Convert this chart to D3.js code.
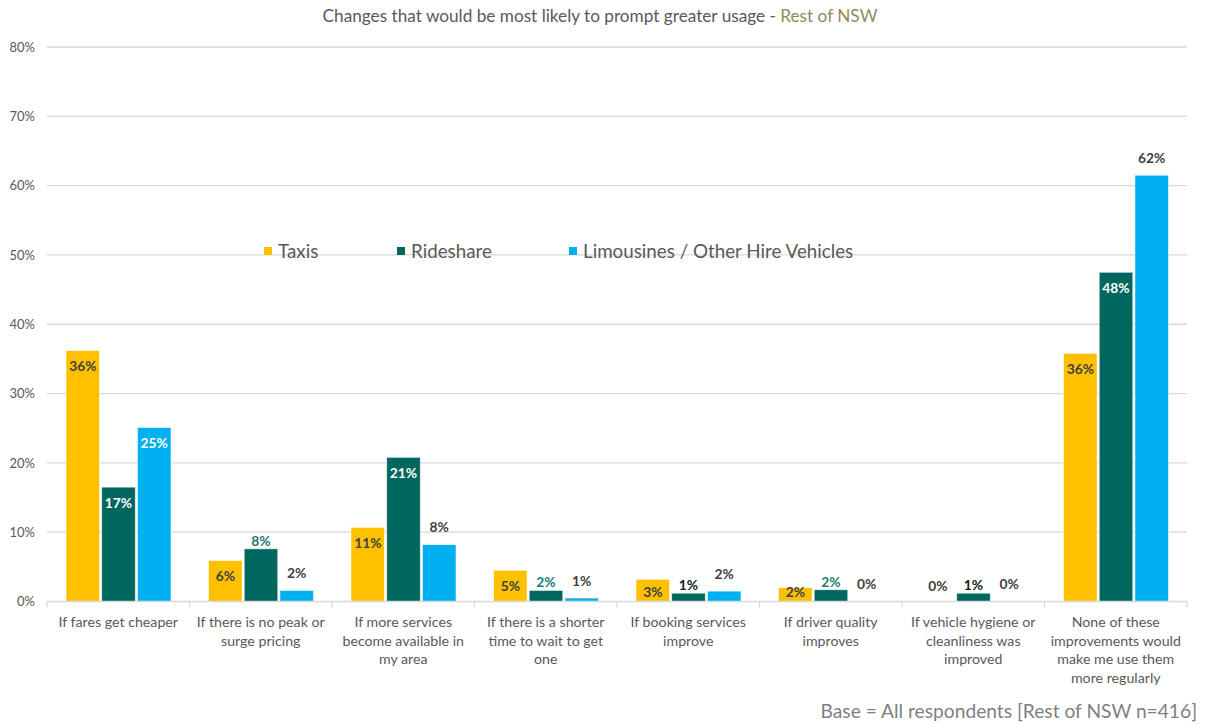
<!DOCTYPE html>
<html>
<head>
<meta charset="utf-8">
<script src="https://cdn.jsdelivr.net/npm/d3@7"></script>
<style>
  html, body { margin: 0; padding: 0; background: #fff; }
  svg { display: block; font-family: Lato, "Open Sans", sans-serif; }
</style>
</head>
<body>
<svg id="chart" width="1207" height="725"></svg>
<script>
// Survey categories (x axis), each label broken into display lines
const categories = [
  ["If fares get cheaper"],
  ["If there is no peak or", "surge pricing"],
  ["If more services", "become available in", "my area"],
  ["If there is a shorter", "time to wait to get", "one"],
  ["If booking services", "improve"],
  ["If driver quality", "improves"],
  ["If vehicle hygiene or", "cleanliness was", "improved"],
  ["None of these", "improvements would", "make me use them", "more regularly"]
];

const seriesNames = ["Taxis", "Rideshare", "Limousines / Other Hire Vehicles"];

// Percent of respondents per category
const taxis     = [36.2, 5.9, 10.7, 4.5, 3.2, 2.0, 0, 35.8];
const rideshare = [16.5, 7.6, 20.8, 1.6, 1.2, 1.7, 1.2, 47.5];
const limos     = [25.1, 1.6, 8.2, 0.5, 1.5, 0, 0, 61.5];

const yTicks = [0, 10, 20, 30, 40, 50, 60, 70, 80];

const colors = ["#FFC000", "#00675F", "#00B0F0"];
const seriesValues = [taxis, rideshare, limos];

const svg = d3.select("#chart");
const plotLeft = 47, plotRight = 1187, plotTop = 47, plotBottom = 601.5;

const x0 = d3.scaleBand().domain(d3.range(categories.length)).range([plotLeft, plotRight]).padding(0);
const x1 = d3.scaleBand().domain(d3.range(seriesNames.length)).range([19, 124]).paddingInner(0.06);
const y = d3.scaleLinear().domain([0, 80]).range([plotBottom, plotTop]);

// Gridlines
svg.append("g")
  .selectAll("line")
  .data(yTicks.filter(t => t > 0))
  .join("line")
  .attr("x1", plotLeft).attr("x2", plotRight)
  .attr("y1", d => y(d)).attr("y2", d => y(d))
  .attr("stroke", "#d9d9d9").attr("stroke-width", 1.3);

// Y axis labels
const yAxis = d3.axisLeft(y).tickValues(yTicks).tickFormat(d => d + "%").tickSize(0).tickPadding(12);
const yg = svg.append("g").attr("transform", `translate(${plotLeft},0)`).call(yAxis);
yg.select(".domain").remove();
yg.selectAll("text").attr("fill", "#595959").style("font-size", "13px").style("font-family", "Lato, sans-serif");

// Bars
const groups = svg.append("g")
  .selectAll("g")
  .data(categories.map((c, i) => i))
  .join("g")
  .attr("transform", i => `translate(${x0(i)},0)`);

groups.selectAll("rect")
  .data(i => seriesValues.map((vals, s) => ({ s, v: vals[i] })))
  .join("rect")
  .attr("x", d => x1(d.s))
  .attr("width", x1.bandwidth())
  .attr("y", d => y(d.v))
  .attr("height", d => plotBottom - y(d.v))
  .attr("fill", d => colors[d.s])
  .attr("stroke", d => d.v > 0 ? "#ffffff" : "none")
  .attr("stroke-width", 0.8)
  .attr("stroke-opacity", 0.7);

// Value labels
function labelPlacement(d) {
  const yt = y(d.v);
  if (d.s === 0) {
    if (d.v === 0) return { y: yt - 15, fill: "#404040" };
    return { y: Math.min(yt + 16, 592), fill: "#404040" };
  }
  const inside = d.v >= 10 && d.v < 55;
  if (inside) return { y: yt + 16, fill: "#ffffff" };
  if (d.s === 1) return { y: yt - 8, fill: d.v >= 1.5 ? "#1E7A73" : "#1a1a1a" };
  return { y: yt - 17, fill: "#404040" };
}

groups.selectAll("text.val")
  .data(i => seriesValues.map((vals, s) => ({ s, v: vals[i] })))
  .join("text")
  .attr("class", "val")
  .attr("x", d => x1(d.s) + x1.bandwidth() / 2)
  .attr("y", d => labelPlacement(d).y)
  .attr("dy", "0.35em")
  .attr("text-anchor", "middle")
  .attr("fill", d => labelPlacement(d).fill)
  .style("font-size", "13.8px")
  .style("font-weight", "bold")
  .text(d => Math.round(d.v) + "%");

// Category axis with boundary ticks
svg.append("line")
  .attr("x1", plotLeft).attr("x2", plotRight)
  .attr("y1", plotBottom).attr("y2", plotBottom)
  .attr("stroke", "#d9d9d9").attr("stroke-width", 1.3);
svg.append("g")
  .selectAll("line")
  .data(d3.range(categories.length + 1))
  .join("line")
  .attr("x1", i => plotLeft + i * x0.step()).attr("x2", i => plotLeft + i * x0.step())
  .attr("y1", plotBottom).attr("y2", plotBottom + 6)
  .attr("stroke", "#d9d9d9").attr("stroke-width", 1.3);

// Category labels
const catText = svg.append("g")
  .selectAll("text")
  .data(categories)
  .join("text")
  .attr("x", (d, i) => x0(i) + x0.bandwidth() / 2)
  .attr("y", 627)
  .attr("text-anchor", "middle")
  .attr("fill", "#595959")
  .style("font-size", "14.2px");
catText.selectAll("tspan")
  .data(d => d)
  .join("tspan")
  .attr("x", function () { return this.parentNode.getAttribute("x"); })
  .attr("dy", (d, j) => j === 0 ? 0 : 18.7)
  .text(d => d);

// Title
const title = svg.append("text")
  .attr("x", 600).attr("y", 22)
  .attr("text-anchor", "middle")
  .style("font-size", "17.2px")
  .attr("fill", "#595959");
title.append("tspan").text("Changes that would be most likely to prompt greater usage - ");
title.append("tspan").attr("fill", "#948A54").text("Rest of NSW");

// Legend
const legendX = [264, 397, 569];
const legend = svg.append("g")
  .selectAll("g")
  .data(seriesNames)
  .join("g")
  .attr("transform", (d, i) => `translate(${legendX[i]},251)`);
legend.append("rect")
  .attr("x", 0).attr("y", -4).attr("width", 8).attr("height", 8)
  .attr("fill", (d, i) => colors[i]);
legend.append("text")
  .attr("x", 14).attr("y", 0).attr("dy", "0.35em")
  .attr("fill", "#595959")
  .style("font-size", "18.8px")
  .text(d => d);

// Footnote
svg.append("text")
  .attr("x", 1197).attr("y", 718)
  .attr("text-anchor", "end")
  .attr("fill", "#7f7f7f")
  .style("font-size", "19.2px")
  .text("Base = All respondents [Rest of NSW n=416]");
</script>
</body>
</html>
